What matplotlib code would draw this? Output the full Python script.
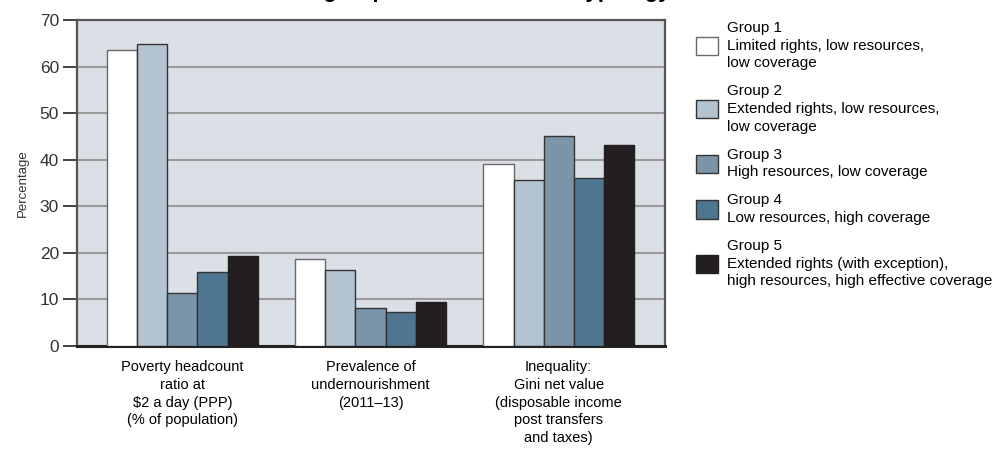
import numpy as np
import matplotlib
matplotlib.use("Agg")
import matplotlib.pyplot as plt

plt.rcParams["font.family"] = ["Liberation Sans", "DejaVu Sans"]

# ---- data ------------------------------------------------------------
categories = [
    "Poverty headcount\nratio at\n$2 a day (PPP)\n(% of population)",
    "Prevalence of\nundernourishment\n(2011\u201313)",
    "Inequality:\nGini net value\n(disposable income\npost transfers\nand taxes)",
]
group_labels = [
    "Group 1\nLimited rights, low resources,\nlow coverage",
    "Group 2\nExtended rights, low resources,\nlow coverage",
    "Group 3\nHigh resources, low coverage",
    "Group 4\nLow resources, high coverage",
    "Group 5\nExtended rights (with exception),\nhigh resources, high effective coverage",
]
group1 = [63.6, 18.7, 39.0]
group2 = [64.9, 16.4, 35.6]
group3 = [11.3, 8.1, 45.1]
group4 = [15.8, 7.2, 36.1]
group5 = [19.3, 9.4, 43.2]
yticks = [0, 10, 20, 30, 40, 50, 60, 70]

colors = ["#ffffff", "#b3c3d0", "#7a95aa", "#4f7690", "#231f20"]
edges = ["#6a6a6a", "#333333", "#333333", "#333333", "#231f20"]

# ---- figure ----------------------------------------------------------
fig = plt.figure(figsize=(10.08, 4.62), dpi=100)
ax = fig.add_axes([0.0764, 0.2511, 0.5833, 0.7056])
ax.set_facecolor("#dbdfe6")

x = np.arange(len(categories))
w = 0.16
series = [group1, group2, group3, group4, group5]
handles = []
for i, vals in enumerate(series):
    b = ax.bar(x + (i - 2) * w, vals, w, color=colors[i],
               edgecolor=edges[i], linewidth=1.0, zorder=3)
    handles.append(b)

ax.set_xlim(-0.56, 2.565)
ax.set_ylim(0, 70)
ax.set_yticks(yticks)
ax.yaxis.grid(True, color="#9a9a9a", lw=1.5, zorder=1)
ax.set_axisbelow(True)

ax.tick_params(axis="y", length=10, width=1.2, color="#222222",
               labelsize=12.5, labelcolor="#333333", pad=3)
ax.set_xticks(x)
ax.set_xticklabels(categories, fontsize=10.5, linespacing=1.35)
ax.tick_params(axis="x", length=0, pad=10)
ax.set_ylabel("Percentage", fontsize=9.5, color="#333333", labelpad=8)

for s in ["left", "top", "right"]:
    ax.spines[s].set_color("#555555")
    ax.spines[s].set_linewidth(1.6)
ax.spines["bottom"].set_color("#222222")
ax.spines["bottom"].set_linewidth(2.2)

# title sits mostly above the canvas, only its descenders show
fig.text(0.39, 1.007, "Outcomes for each group across the whole typology",
         ha="center", va="baseline", fontsize=16, fontweight="bold")

leg = fig.legend(handles, group_labels, loc="upper left",
                 bbox_to_anchor=(0.677, 0.985), frameon=False,
                 handlelength=1.45, handleheight=1.45, handletextpad=0.6,
                 labelspacing=0.9, prop={"size": 11})
for t in leg.get_texts():
    t.set_linespacing(1.35)

fig.savefig("out.png", dpi=100)
